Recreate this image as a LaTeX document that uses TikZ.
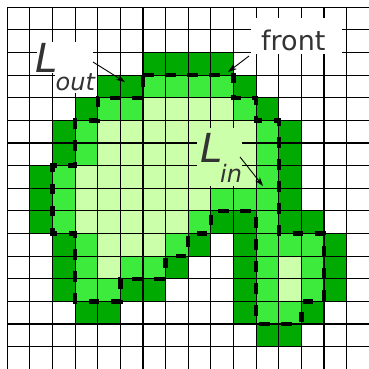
\documentclass[tikz,border=0pt]{standalone}
\usepackage{fontspec}
\setmainfont{DejaVu Sans}
\usetikzlibrary{arrows.meta}
\definecolor{dkg}{RGB}{0,170,0}
\definecolor{mdg}{RGB}{60,235,60}
\definecolor{ltg}{RGB}{204,255,170}
\definecolor{txtc}{RGB}{51,51,51}
\tikzset{
  gridl/.style={line width=1.1pt, black},
  frontline/.style={line width=4.3pt, black, dash pattern=on 10.5pt off 11.5pt, line join=miter},
  arr/.style={line width=0.9pt, black, -{Stealth[length=9pt,width=6pt]}},
  bigL/.style={anchor=base west, inner sep=0pt, text=txtc, font=\fontsize{40}{40}\selectfont\itshape},
  subL/.style={anchor=base west, inner sep=0pt, text=txtc, font=\fontsize{24}{24}\selectfont\itshape},
  lbl/.style={anchor=base west, inner sep=0pt, text=txtc, font=\fontsize{27}{27}\selectfont}
}
\begin{document}
\begin{tikzpicture}[x=1pt,y=-1pt]
\useasboundingbox (0,0) rectangle (369,368);
\fill[white] (0,0) rectangle (369,368);
\begin{scope}
\clip (0,0) rectangle (369,368);
\begin{scope}[shift={(7.3pt,-7.3pt)}, x=22.62pt, y=-22.62pt]
  % dark cells
  \foreach \r/\cs in {2/{6,7,8,9},3/{4,5,10},4/{3,11},5/{2,12},6/{2,12},7/{1,12},8/{1,12},
      9/{1,9,10,12,13},10/{2,8,10,14},11/{2,7,10,14},12/{2,5,6,10,14},13/{3,4,10,13},14/{11,12}}
    \foreach \c in \cs \fill[dkg] (\c,\r) rectangle ++(1,1);
  % medium cells
  \foreach \r/\cs in {3/{6,7,8,9},4/{4,5,10},5/{3,11},6/{3,11},7/{2,11},8/{2,9,10,11},
      9/{2,8,11},10/{3,7,11,12,13},11/{3,5,6,11,13},12/{3,4,11,13},13/{11,12}}
    \foreach \c in \cs \fill[mdg] (\c,\r) rectangle ++(1,1);
  % light cells
  \foreach \r/\cs in {4/{6,7,8,9},5/{4,5,6,7,8,9,10},6/{4,5,6,7,8,9,10},7/{3,4,5,6,7,8,9,10},
      8/{3,4,5,6,7,8},9/{3,4,5,6,7},10/{4,5,6},11/{4,12},12/{12}}
    \foreach \c in \cs \fill[ltg] (\c,\r) rectangle ++(1,1);
  % grid
  \foreach \k in {0,...,16} {
    \draw[gridl] (\k,0) -- (\k,16.5);
    \draw[gridl] (0,\k) -- (16.5,\k);
  }
  % front
  \draw[frontline] (6,3) -- (10,3) -- (10,4) -- (11,4) -- (11,5) -- (12,5) -- (12,10) -- (14,10)
    -- (14,13) -- (13,13) -- (13,14) -- (11,14) -- (11,9) -- (9,9) -- (9,10) -- (8,10) -- (8,11)
    -- (7,11) -- (7,12) -- (5,12) -- (5,13) -- (3,13) -- (3,10) -- (2,10) -- (2,7) -- (3,7)
    -- (3,5) -- (4,5) -- (4,4) -- (6,4) -- cycle;
\end{scope}
\end{scope}
% label backgrounds
\fill[white] (37,42) rectangle (93,73);
\fill[white] (55,73) rectangle (97,93);
\fill[white] (251,18) rectangle (342,54);
\fill[ltg] (197,128) rectangle (242,186);
% labels
\node[bigL] (Lout) at (35.5,72) {L};
\node[subL] (Loutsub) at (55.5,90) {out};
\node[lbl] (front) at (261,50) {front};
\node[bigL] (Lin) at (200.5,162) {L};
\node[subL] (Linsub) at (220,182) {in};
% arrows
\coordinate (ao) at (93,62);
\coordinate (aot) at (125,82);
\coordinate (af) at (249,56);
\coordinate (aft) at (228,72);
\coordinate (ai) at (240,157);
\coordinate (ait) at (263,186);
\draw[arr] (ao) -- (aot);
\draw[arr] (af) -- (aft);
\draw[arr] (ai) -- (ait);
\end{tikzpicture}
\end{document}
